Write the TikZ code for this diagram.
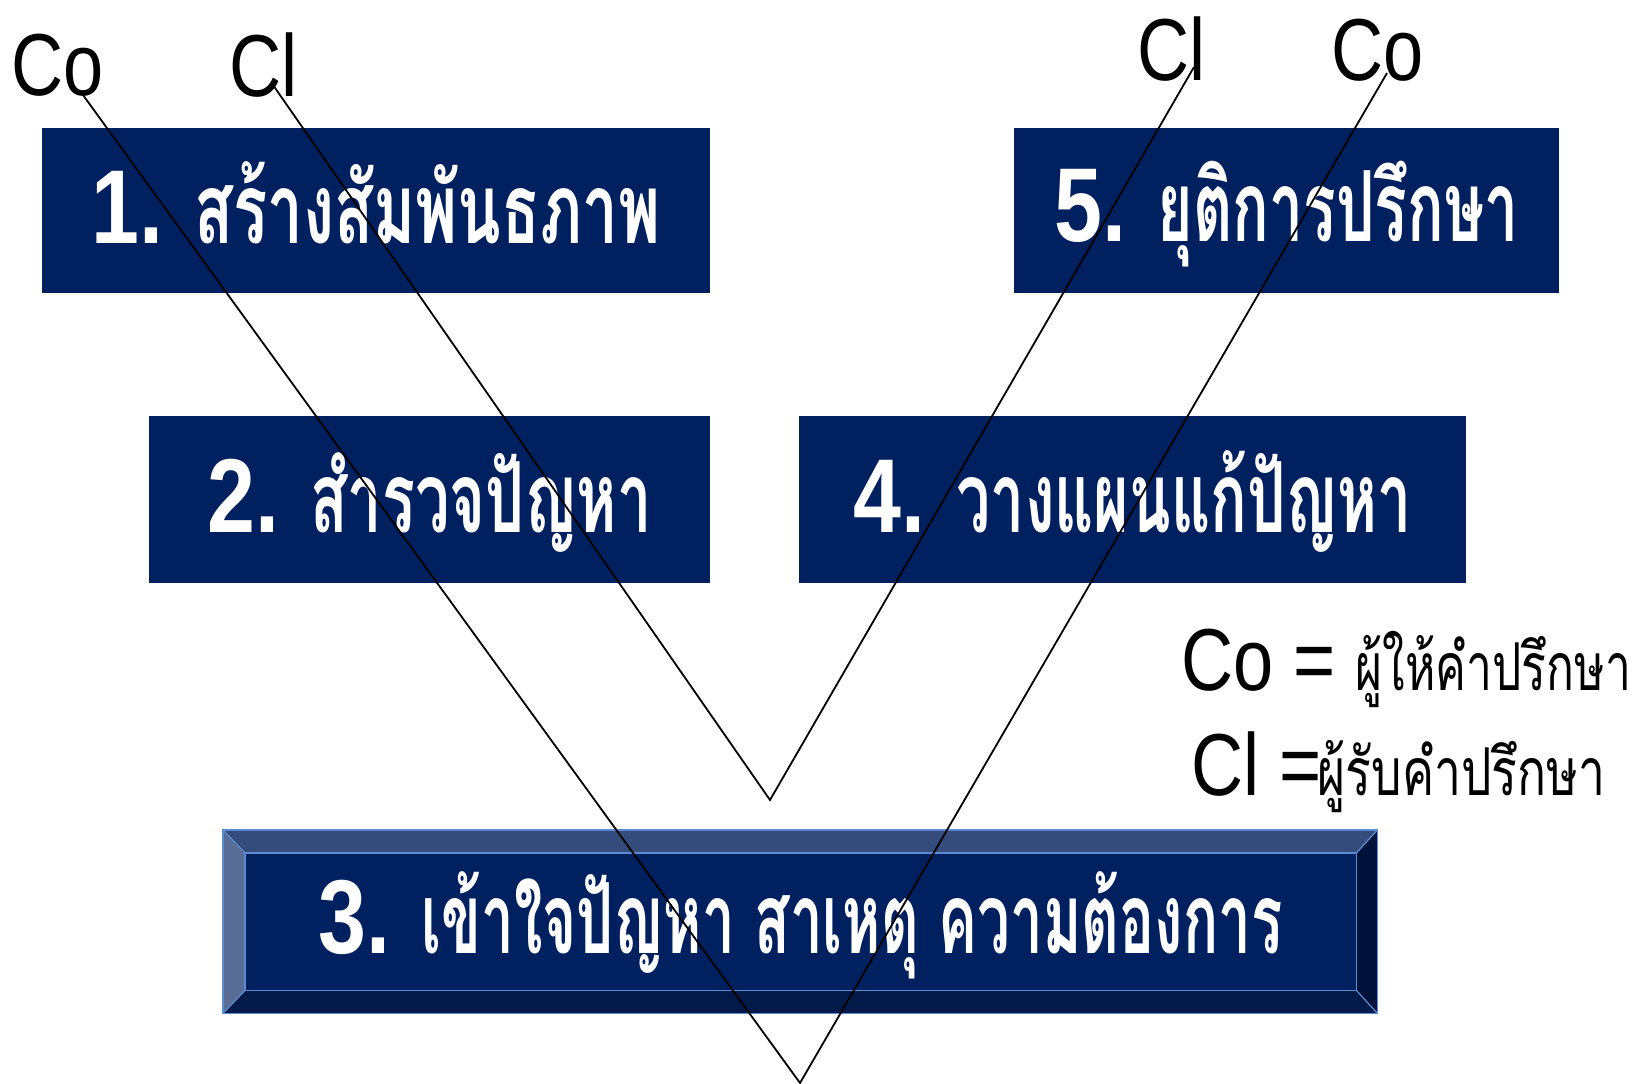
\documentclass[tikz,border=0pt]{standalone}
\usepackage{graphicx}
\usepackage{fontspec}
\setmainfont{Liberation Sans}[FakeStretch=0.82]
\newfontfamily\thaifont{Loma}[Script=Thai,FakeStretch=0.62]
\newfontfamily\thailight{Loma}[Script=Thai,FakeStretch=0.7]
\definecolor{navy}{HTML}{002060}
\definecolor{bevtop}{HTML}{354B7B}
\definecolor{bevleft}{HTML}{5A6D97}
\definecolor{bevbot}{HTML}{011A4A}
\definecolor{bevright}{HTML}{00123A}
\definecolor{bevedge}{HTML}{5B8BD0}
\newcommand{\boxtext}[3]{{\fontsize{105}{110}\selectfont\bfseries #1}\hspace{31pt}\scalebox{#3}[1]{\thaifont\bfseries\fontsize{98}{100}\selectfont #2}}
\tikzset{
  stepbox/.style={fill=navy, text=white, inner sep=0pt, anchor=north west},
  lab/.style={inner sep=0pt, anchor=base west, font=\fontsize{88}{90}\selectfont},
  conn/.style={draw=black, line width=1.8pt},
}
\begin{document}
\begin{tikzpicture}[x=1pt,y=-1pt]
\useasboundingbox (0,0) rectangle (1642,1084);
% boxes
\node[stepbox, minimum width=668pt, text height=115pt, text depth=50pt] (b1) at (42,128) {\boxtext{1.}{สร้างสัมพันธภาพ}{1.05}};
\node[stepbox, minimum width=561pt, text height=116pt, text depth=51pt] (b2) at (149,416) {\boxtext{2.}{สำรวจปัญหา}{1.01}};
\node[stepbox, minimum width=667pt, text height=116pt, text depth=51pt] (b4) at (799,416) {\boxtext{4.}{วางแผนแก้ปัญหา}{1.0}};
\node[stepbox, minimum width=545pt, text height=113pt, text depth=52pt] (b5) at (1014,128) {\boxtext{5.}{ยุติการปรึกษา}{1.0}};
\node[stepbox, minimum width=1111pt, text height=100pt, text depth=37pt] (b3) at (245,853) {\boxtext{3.}{เข้าใจปัญหา สาเหตุ ความต้องการ}{0.96}};
% bevel of box 3
\path (b3.north west) ++(-22,-23) coordinate (onw);
\path (b3.north east) ++(21,-23) coordinate (one);
\path (b3.south east) ++(21,23) coordinate (ose);
\path (b3.south west) ++(-22,23) coordinate (osw);
\fill[bevtop] (onw) -- (one) -- (b3.north east) -- (b3.north west) -- cycle;
\fill[bevleft] (onw) -- (b3.north west) -- (b3.south west) -- (osw) -- cycle;
\fill[bevbot] (osw) -- (b3.south west) -- (b3.south east) -- (ose) -- cycle;
\fill[bevright] (one) -- (ose) -- (b3.south east) -- (b3.north east) -- cycle;
\draw[bevedge, line width=1.5pt] (onw) rectangle (ose);
\draw[bevedge, line width=1.2pt] (b3.north west) rectangle (b3.south east);
\draw[bevedge, line width=1.2pt] (onw) -- (b3.north west) (one) -- (b3.north east) (ose) -- (b3.south east) (osw) -- (b3.south west);
% labels
\node[lab] (coL) at (11,95) {Co};
\node[lab] (clL) at (229,96) {Cl};
\node[lab] (clR) at (1137,80) {Cl};
\node[lab] (coR) at (1331,80) {Co};
% legend
\node[lab] (leg1) at (1181,690) {Co = {\thailight\fontsize{66}{70}\selectfont ผู้ให้คำปรึกษา}};
\node[lab] (leg2) at (1191,795) {Cl =\hspace{-4pt}\scalebox{1.04}[1]{\thailight\fontsize{66}{70}\selectfont ผู้รับคำปรึกษา}};
% connector ends
\coordinate (coLend) at (83,95);
\coordinate (clLend) at (273,85);
\coordinate (clRend) at (1194,67);
\coordinate (coRend) at (1387,73);
\coordinate (vIn) at (770,800);
\coordinate (vOut) at (800,1083);
\draw[conn] (coLend) -- (vOut) -- (coRend);
\draw[conn] (clLend) -- (vIn) -- (clRend);
\end{tikzpicture}
\end{document}
